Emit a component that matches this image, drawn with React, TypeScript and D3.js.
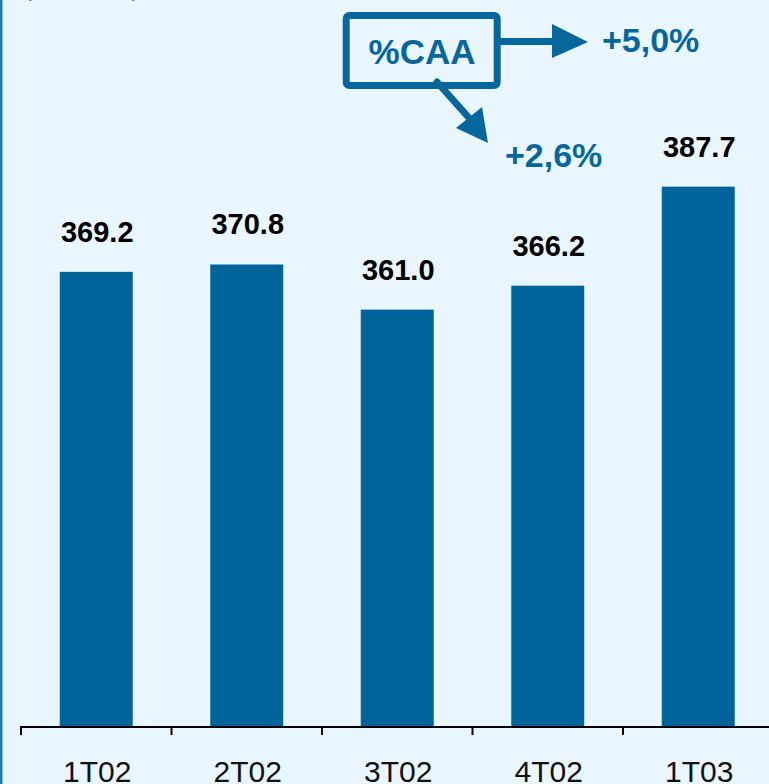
import React from "react";
import * as d3 from "d3";

const categories = ["1T02", "2T02", "3T02", "4T02", "1T03"];
const values = [369.2, 370.8, 361.0, 366.2, 387.7];
const valueLabels = ["369.2", "370.8", "361.0", "366.2", "387.7"];
const growthLabels = ["+5,0%", "+2,6%"];
const annotationTitle = "%CAA";
const unitLabel = "(R$ milhões)";

const W = 769;
const H = 784;
const BASE = 726;
const BAR = "#00649a";
const ANN = "#07679c";
const BG = "#eaf6fe";
const FONT = "'Liberation Sans', Arial, sans-serif";

export default function App() {
  const x = d3
    .scaleBand<string>()
    .domain(categories)
    .range([21, 773.5])
    .paddingInner(0.515)
    .paddingOuter(0.2575);
  const y = d3.scaleLinear().domain([270.6, 400]).range([BASE, 130]);
  const step = x.step();
  const ticks = d3.range(categories.length + 1).map((i) => 21 + i * step);

  return (
    <svg
      width={W}
      height={H}
      style={{ position: "fixed", left: 0, top: 0, display: "block" }}
      fontFamily={FONT}
    >
      <rect x={0} y={0} width={W} height={H} fill={BG} />
      <rect x={0} y={0} width={2.5} height={H} fill="#1f7db6" />
      <text x={25} y={-3} fontSize={20} fill="#666">
        {unitLabel}
      </text>

      {categories.map((c, i) => (
        <rect
          key={c}
          x={x(c)}
          y={y(values[i])}
          width={x.bandwidth()}
          height={BASE - y(values[i])}
          fill={BAR}
        />
      ))}

      {categories.map((c, i) => (
        <text
          key={"v" + c}
          x={(x(c) as number) + x.bandwidth() / 2 + 1}
          y={y(values[i]) - 30}
          textAnchor="middle"
          fontSize={29}
          fontWeight="bold"
          fill="#000"
        >
          {valueLabels[i]}
        </text>
      ))}

      <line x1={21} x2={W} y1={BASE + 1} y2={BASE + 1} stroke="#000" strokeWidth={2} />
      {ticks.map((t, i) => (
        <line key={"t" + i} x1={t} x2={t} y1={BASE} y2={BASE + 9} stroke="#000" strokeWidth={2} />
      ))}
      {categories.map((c) => (
        <text
          key={"c" + c}
          x={(x(c) as number) + x.bandwidth() / 2 + 1}
          y={781.5}
          textAnchor="middle"
          fontSize={30}
          fill="#111"
        >
          {c}
        </text>
      ))}

      {/* annotation */}
      <rect x={346.2} y={15.5} width={151} height={70} rx={3} fill="none" stroke={ANN} strokeWidth={7} />
      <text x={422} y={64} textAnchor="middle" fontSize={35} fontWeight="bold" fill={ANN}>
        {annotationTitle}
      </text>
      <line x1={500} y1={41.5} x2={556} y2={41.5} stroke={ANN} strokeWidth={7} />
      <polygon points="552,24 588,42 552,58" fill={ANN} />
      <line x1={437} y1={82} x2={470} y2={119} stroke={ANN} strokeWidth={7} strokeLinecap="round" />
      <polygon points="456,128 488,143 482,107" fill={ANN} />
      <text x={602} y={52} fontSize={34} fontWeight="bold" fill={ANN}>
        {growthLabels[0]}
      </text>
      <text x={505} y={167} fontSize={34} fontWeight="bold" fill={ANN}>
        {growthLabels[1]}
      </text>
    </svg>
  );
}
